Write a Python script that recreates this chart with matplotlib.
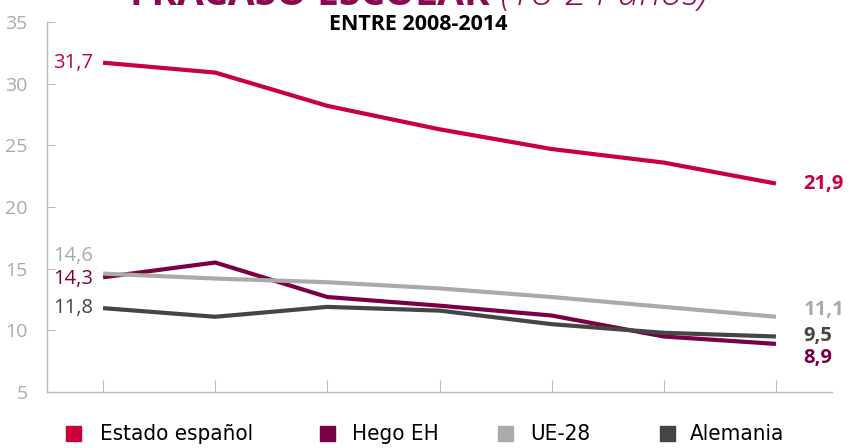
import numpy as np
import matplotlib.pyplot as plt
from matplotlib.patches import Rectangle

years = [2008, 2009, 2010, 2011, 2012, 2013, 2014]
estado = [31.7, 30.9, 28.2, 26.3, 24.7, 23.6, 21.9]
hego_eh = [14.3, 15.5, 12.7, 12.0, 11.2, 9.5, 8.9]
ue28 = [14.6, 14.2, 13.9, 13.4, 12.7, 11.9, 11.1]
alemania = [11.8, 11.1, 11.9, 11.6, 10.5, 9.8, 9.5]
names = ['Estado español', 'Hego EH', 'UE-28', 'Alemania']
colors = ['#c8003c', '#7a0046', '#aaaaaa', '#454545']
yticks = [5, 10, 15, 20, 25, 30, 35]

plt.rcParams['font.family'] = ['Open Sans', 'DejaVu Sans']

dpi = 100
W, H = 850, 448
fig = plt.figure(figsize=(W/dpi, H/dpi), dpi=dpi)
ax = fig.add_axes([47/W, 1-392/H, (832-47)/W, (392-22)/H])

x = np.arange(len(years))
series = [estado, hego_eh, ue28, alemania]
for s, c in zip(series, colors):
    ax.plot(x, s, color=c, lw=3, solid_capstyle='butt', solid_joinstyle='round')

ax.set_xlim(-0.5, len(years)-0.5)
ax.set_ylim(5, 35)
ax.set_xticks(x)
ax.set_xticklabels([])
ax.set_yticks(yticks)
ax.tick_params(axis='y', direction='in', length=6, color='#bbbbbb', labelcolor='#aaaaaa',
               labelsize=14, pad=14)
ax.tick_params(axis='x', direction='in', length=9, color='#bbbbbb')
for sp in ['top', 'right']:
    ax.spines[sp].set_visible(False)
for sp in ['left', 'bottom']:
    ax.spines[sp].set_color('#bbbbbb')
    ax.spines[sp].set_linewidth(1)

fmt = lambda v: ('%.1f' % v).replace('.', ',')

# start labels (nudged so they don't collide)
left_off = [0, -0.1, 1.4, 0]
for s, c, o in zip(series, colors, left_off):
    ax.annotate(fmt(s[0]), (x[0], s[0] + o), xytext=(-7, 0), textcoords='offset points',
                ha='right', va='center', color=c, fontsize=14.5)
# end labels
right_off = [0, -1.15, 0.55, 0]
for s, c, o in zip(series, colors, right_off):
    ax.annotate(fmt(s[-1]), (x[-1], s[-1] + o), xytext=(20, 0), textcoords='offset points',
                ha='left', va='center', color=c, fontsize=14.5, fontweight='bold')

# titles (main title is cut at the top, like the original)
fig.text(490/W, 1.0 - 5/H, 'FRACASO ESCOLAR', ha='right', va='baseline',
         color='#8a0a50', fontsize=28, fontweight='bold')
fig.text(490/W, 1.0 - 5/H, ' (18-24 años)', ha='left', va='baseline',
         color='#8a0a50', fontsize=28, fontstyle='italic', fontweight='light')
fig.text(418/W, 1 - 24/H, 'ENTRE 2008-2014', ha='center', va='center',
         color='black', fontsize=15.5, fontweight='bold')

# legend drawn by hand
sq_x = [66, 320, 498, 660]
txt_x = [100, 352, 530, 690]
for name, c, sx, tx in zip(names, colors, sq_x, txt_x):
    fig.patches.append(Rectangle((sx/W, 1 - 441/H), 15/W, 15/H, color=c,
                                 transform=fig.transFigure, figure=fig))
    fig.text(tx/W, 1 - 434/H, name, ha='left', va='center', color='black',
             fontsize=16, family='DejaVu Sans', fontstretch='condensed')

fig.savefig('out.png', dpi=dpi)
